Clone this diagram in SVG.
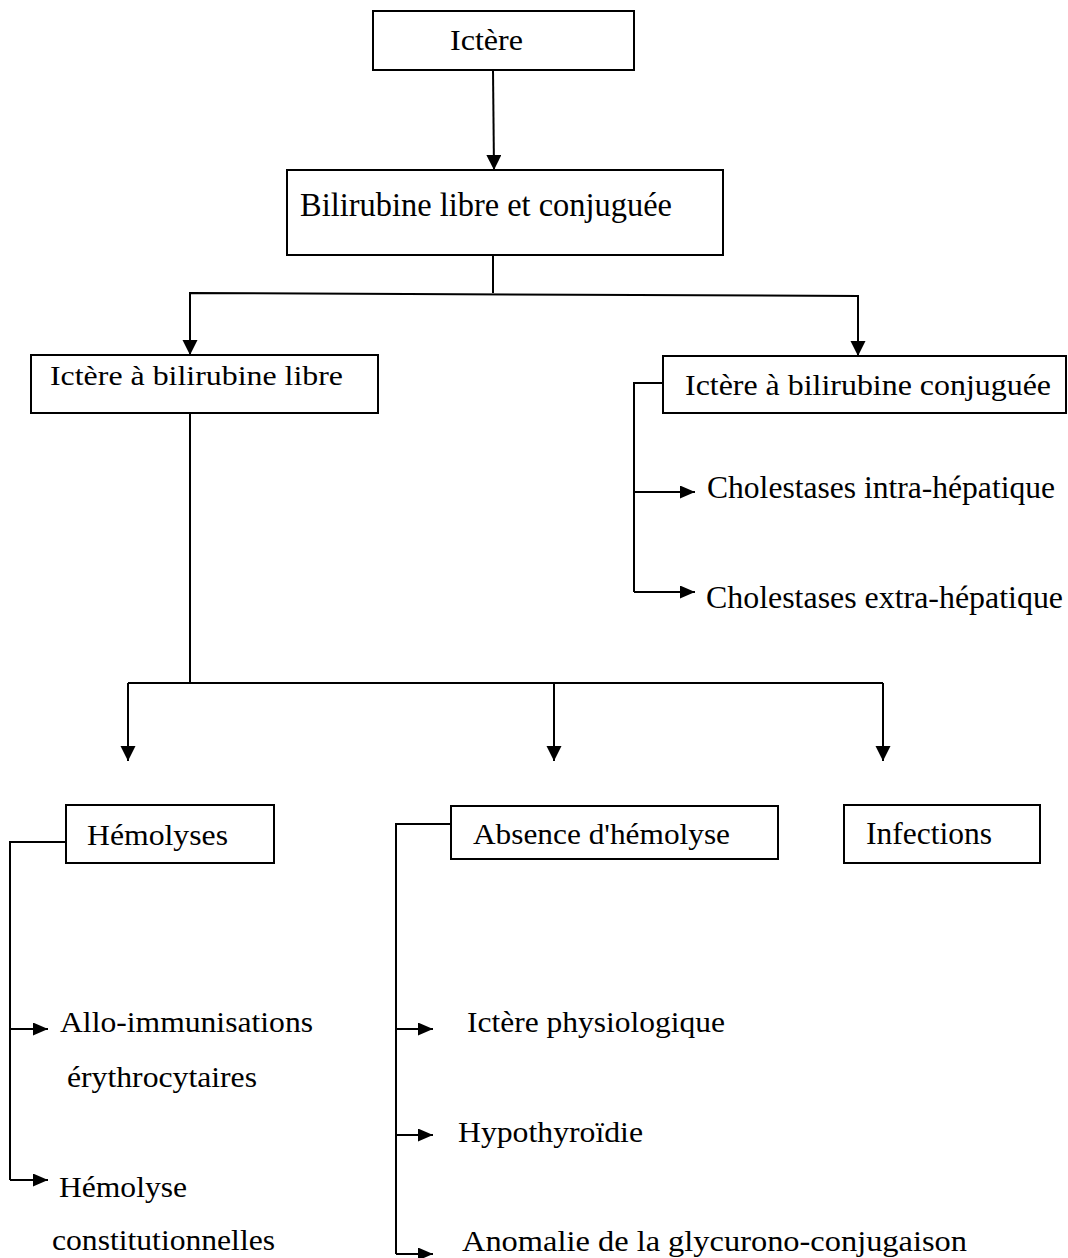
<svg xmlns="http://www.w3.org/2000/svg" width="1068" height="1258" viewBox="0 0 1068 1258">
<defs>
<style>
.box{fill:#fff;stroke:#000;stroke-width:2}
.ln{fill:none;stroke:#000;stroke-width:2}
.t{font-family:"Liberation Serif","Times New Roman",serif;fill:#000}
</style>
<marker id="ah" markerUnits="userSpaceOnUse" markerWidth="16" markerHeight="16" refX="15" refY="7.5" orient="auto">
<path d="M0,0 L15,7.5 L0,15 z" fill="#000"/>
</marker>
<marker id="ahs" markerUnits="userSpaceOnUse" markerWidth="16" markerHeight="14" refX="15" refY="6.5" orient="auto">
<path d="M0,0 L15,6.5 L0,13 z" fill="#000"/>
</marker>
</defs>
<rect width="1068" height="1258" fill="#fff"/>
<g id="connectors">
<line class="ln" x1="493" y1="70" x2="494" y2="170" marker-end="url(#ah)"/>
<polyline class="ln" points="493,255 493,293"/>
<polyline class="ln" points="190,355 190,293 858,296 858,356" />
<line class="ln" x1="190" y1="294" x2="190" y2="355" marker-end="url(#ah)"/>
<line class="ln" x1="858" y1="296" x2="858" y2="356" marker-end="url(#ah)"/>
<polyline class="ln" points="663,383 634,383 634,592"/>
<line class="ln" x1="634" y1="492" x2="695" y2="492" marker-end="url(#ahs)"/>
<line class="ln" x1="634" y1="592" x2="695" y2="592" marker-end="url(#ahs)"/>
<line class="ln" x1="190" y1="413" x2="190" y2="683"/>
<line class="ln" x1="128" y1="683" x2="883" y2="683"/>
<line class="ln" x1="128" y1="683" x2="128" y2="761" marker-end="url(#ah)"/>
<line class="ln" x1="554" y1="683" x2="554" y2="761" marker-end="url(#ah)"/>
<line class="ln" x1="883" y1="683" x2="883" y2="761" marker-end="url(#ah)"/>
<polyline class="ln" points="66,842 10,842 10,1180"/>
<line class="ln" x1="10" y1="1029" x2="48" y2="1029" marker-end="url(#ahs)"/>
<line class="ln" x1="10" y1="1180" x2="48" y2="1180" marker-end="url(#ahs)"/>
<polyline class="ln" points="451,824 396,824 396,1254"/>
<line class="ln" x1="396" y1="1029" x2="433" y2="1029" marker-end="url(#ahs)"/>
<line class="ln" x1="396" y1="1135" x2="433" y2="1135" marker-end="url(#ahs)"/>
<line class="ln" x1="396" y1="1254" x2="433" y2="1254" marker-end="url(#ahs)"/>
</g>
<g id="n-ictere">
<rect class="box" x="373" y="11" width="261" height="59"/>
<text class="t" x="450" y="50" font-size="29" textLength="73" lengthAdjust="spacingAndGlyphs">Ictère</text>
</g>
<g id="n-bilirubine">
<rect class="box" x="287" y="170" width="436" height="85"/>
<text class="t" x="300" y="216" font-size="33" textLength="372" lengthAdjust="spacingAndGlyphs">Bilirubine libre et conjuguée</text>
</g>
<g id="n-libre">
<rect class="box" x="31" y="355" width="347" height="58"/>
<text class="t" x="50" y="385" font-size="28" textLength="293" lengthAdjust="spacingAndGlyphs">Ictère à bilirubine libre</text>
</g>
<g id="n-conjuguee">
<rect class="box" x="663" y="356" width="403" height="57"/>
<text class="t" x="685" y="395" font-size="30" textLength="366" lengthAdjust="spacingAndGlyphs">Ictère à bilirubine conjuguée</text>
</g>
<g id="n-intra">
<text class="t" x="707" y="498" font-size="31" textLength="348" lengthAdjust="spacingAndGlyphs">Cholestases intra-hépatique</text>
</g>
<g id="n-extra">
<text class="t" x="706" y="608" font-size="31" textLength="357" lengthAdjust="spacingAndGlyphs">Cholestases extra-hépatique</text>
</g>
<g id="n-hemolyses">
<rect class="box" x="66" y="805" width="208" height="58"/>
<text class="t" x="87" y="845" font-size="30" textLength="141" lengthAdjust="spacingAndGlyphs">Hémolyses</text>
</g>
<g id="n-absence">
<rect class="box" x="451" y="806" width="327" height="53"/>
<text class="t" x="473" y="844" font-size="29" textLength="257" lengthAdjust="spacingAndGlyphs">Absence d'hémolyse</text>
</g>
<g id="n-infections">
<rect class="box" x="844" y="805" width="196" height="58"/>
<text class="t" x="866" y="844" font-size="31" textLength="126" lengthAdjust="spacingAndGlyphs">Infections</text>
</g>
<g id="n-allo">
<text class="t" x="60" y="1032" font-size="30" textLength="253" lengthAdjust="spacingAndGlyphs">Allo-immunisations</text>
<text class="t" x="67" y="1087" font-size="30" textLength="190" lengthAdjust="spacingAndGlyphs">érythrocytaires</text>
</g>
<g id="n-hemolyse-const">
<text class="t" x="59" y="1197" font-size="30" textLength="128" lengthAdjust="spacingAndGlyphs">Hémolyse</text>
<text class="t" x="52" y="1250" font-size="30" textLength="223" lengthAdjust="spacingAndGlyphs">constitutionnelles</text>
</g>
<g id="n-physio">
<text class="t" x="467" y="1032" font-size="30" textLength="258" lengthAdjust="spacingAndGlyphs">Ictère physiologique</text>
</g>
<g id="n-hypo">
<text class="t" x="458" y="1142" font-size="30" textLength="185" lengthAdjust="spacingAndGlyphs">Hypothyroïdie</text>
</g>
<g id="n-anomalie">
<text class="t" x="462" y="1251" font-size="30" textLength="505" lengthAdjust="spacingAndGlyphs">Anomalie de la glycurono-conjugaison</text>
</g>
</svg>
